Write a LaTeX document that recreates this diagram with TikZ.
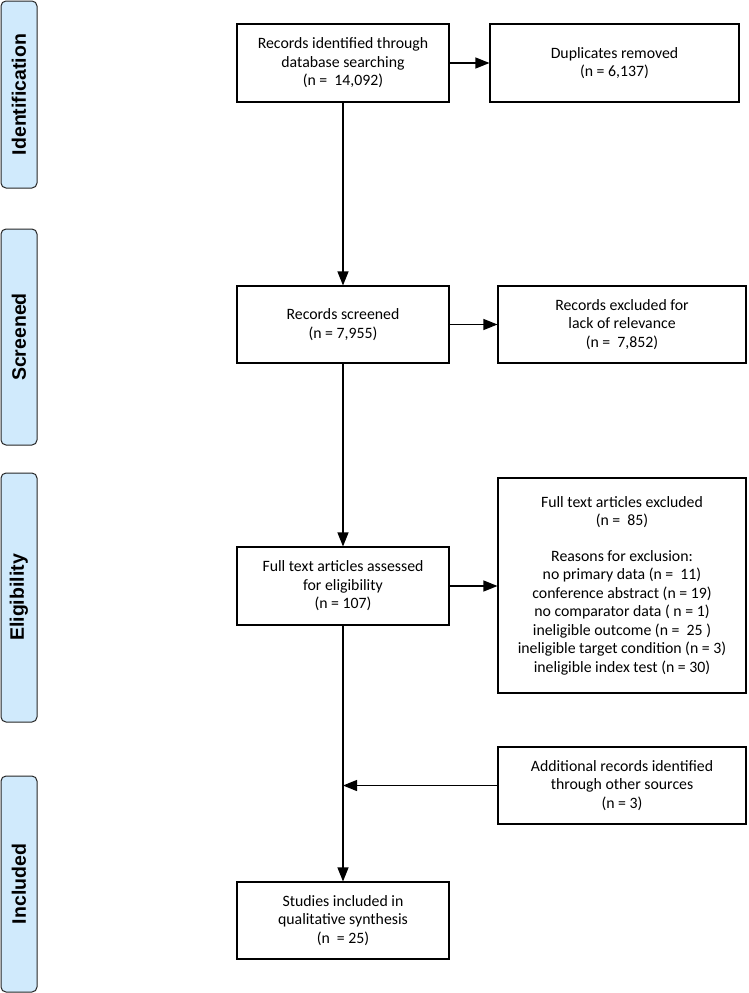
\documentclass[tikz,border=0pt]{standalone}
\usepackage{fontspec}
\setmainfont{Carlito}
\newfontfamily\phasefont{Liberation Sans}
\usetikzlibrary{arrows.meta}
\definecolor{phaseblue}{RGB}{208,234,252}
\tikzset{
	flowbox/.style={draw=black, line width=1.1pt, align=center, inner sep=2pt,
		font=\fontsize{15.8}{18.5}\selectfont},
	phase/.style={draw=black!85, line width=1pt, fill=phaseblue, rounded corners=5pt,
		minimum height=36pt, rotate=90, font=\phasefont\bfseries\fontsize{19.5}{22}\selectfont},
	flow/.style={line width=1.2pt, -{Triangle[length=14pt,width=11pt]}},
}
\begin{document}
\begin{tikzpicture}[x=1pt, y=-1pt]
		
		\useasboundingbox (0,0) rectangle (748,993);
		
		% phase bars on the left
		\node[phase, minimum width=187pt] (ident) at (19, 94.5) {Identification};
		\node[phase, minimum width=216pt] (screen) at (19, 337) {Screened};
		\node[phase, minimum width=249pt] (elig) at (19, 597.5) {Eligibility};
		\node[phase, minimum width=216pt] (incl) at (19, 884) {Included};
		
		% main column
		\node[flowbox, minimum width=212pt, minimum height=78pt] (found) at (343, 63)
			{Records identified through\\database searching\\(n =~ 14,092)};
		\node[flowbox, minimum width=212pt, minimum height=77pt] (screened) at (343, 324.5)
			{Records screened\\(n = 7,955)};
		\node[flowbox, minimum width=212pt, minimum height=78pt] (assessed) at (343, 586)
			{Full text articles assessed\\for eligibility\\(n = 107)};
		\node[flowbox, minimum width=212pt, minimum height=77pt] (studies) at (343, 920.5)
			{Studies included in\\qualitative synthesis\\(n~ = 25)};
		
		% right column
		\node[flowbox, minimum width=249pt, minimum height=78pt] (dups) at (614.5, 63)
			{Duplicates removed\\(n = 6,137)};
		\node[flowbox, minimum width=248pt, minimum height=77pt] (irrel) at (622, 324.5)
			{Records excluded for\\lack of relevance\\(n =~ 7,852)};
		\node[flowbox, minimum width=248pt, minimum height=215pt] (fullex) at (622, 585.5)
			{Full text articles excluded\\(n =~ 85)\\[17pt]
			Reasons for exclusion:\\no primary data (n =~ 11)\\conference abstract (n = 19)\\
			no comparator data ( n = 1)\\ineligible outcome (n =~ 25 )\\
			ineligible target condition (n = 3)\\ineligible index test (n = 30)};
		\node[flowbox, minimum width=248pt, minimum height=77pt] (other) at (622, 785.5)
			{Additional records identified\\through other sources\\(n = 3)};
		
		\coordinate (join) at (assessed.south |- other.west);
		
		\draw[flow] (found) -- (screened);
		\draw[flow] (screened) -- (assessed);
		\draw[flow] (assessed) -- (studies);
		\draw[flow] (found) -- (dups);
		\draw[flow] (screened) -- (irrel);
		\draw[flow] (assessed.east) -- (fullex.west |- assessed.east);
		\draw[flow] (other.west) -- (join);
		
	\end{tikzpicture}
\end{document}
